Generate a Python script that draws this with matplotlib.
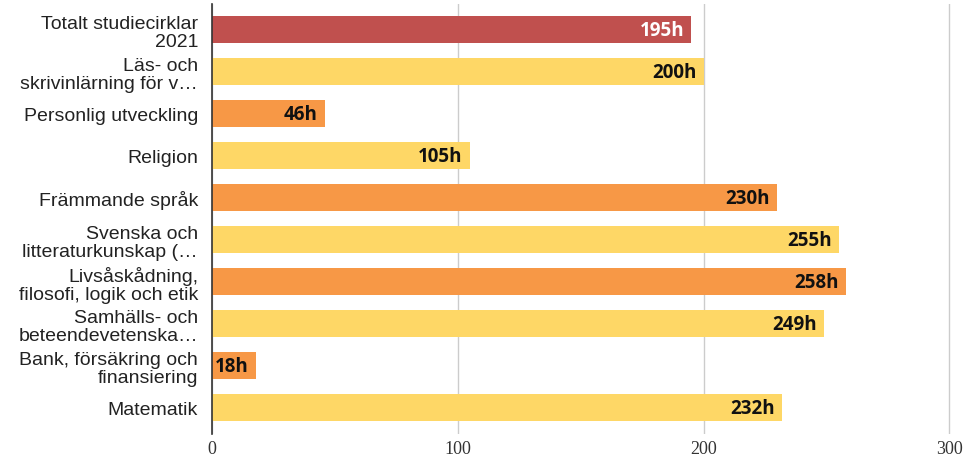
import matplotlib
matplotlib.use("Agg")
from matplotlib import pyplot as plt

# Timmar per ämnesområde, studiecirklar 2021
kategorier = [
    "Totalt studiecirklar\n2021",
    "Läs- och\nskrivinlärning för v…",
    "Personlig utveckling",
    "Religion",
    "Främmande språk",
    "Svenska och\nlitteraturkunskap (…",
    "Livsåskådning,\nfilosofi, logik och etik",
    "Samhälls- och\nbeteendevetenska…",
    "Bank, försäkring och\nfinansiering",
    "Matematik",
]
timmar = [195, 200, 46, 105, 230, 255, 258, 249, 18, 232]
farger = ["#c0504e", "#fed766", "#f79846", "#fed766", "#f79846",
          "#fed766", "#f79846", "#fed766", "#f79846", "#fed766"]
textfarger = ["white"] + ["#111111"] * 9
xticks = [0, 100, 200, 300]

fig = plt.figure(figsize=(9.79, 4.6), dpi=100)
ax = fig.add_axes([212 / 979, 25 / 460, 1 - 212 / 979, 430 / 460])

pos = list(range(len(kategorier)))
ax.barh(pos, timmar, height=0.64, color=farger, zorder=3)

for y, v, c in zip(pos, timmar, textfarger):
    ax.text(v - 3, y, f"{v}h", ha="right", va="center", color=c,
            fontsize=13.5, fontweight="bold", family="Open Sans", zorder=4)

ax.set_xlim(0, 312)
ax.set_ylim(9.63, -0.61)
ax.set_yticks(pos)
ax.set_yticklabels(kategorier, family="Liberation Sans", fontsize=14,
                   color="#222222", linespacing=1.08)
ax.set_xticks(xticks)
ax.set_xticklabels([str(t) for t in xticks], family="Liberation Serif",
                   fontsize=13, color="#333333")
ax.tick_params(axis="both", length=0)
ax.tick_params(axis="x", pad=4)
ax.tick_params(axis="y", pad=10)

ax.grid(axis="x", color="#cccccc", linewidth=1, zorder=0)
for s in ["top", "right", "bottom"]:
    ax.spines[s].set_visible(False)
ax.spines["left"].set_color("#333333")
ax.spines["left"].set_linewidth(1.2)
ax.spines["left"].set_zorder(5)

fig.savefig("out.png", dpi=100)
